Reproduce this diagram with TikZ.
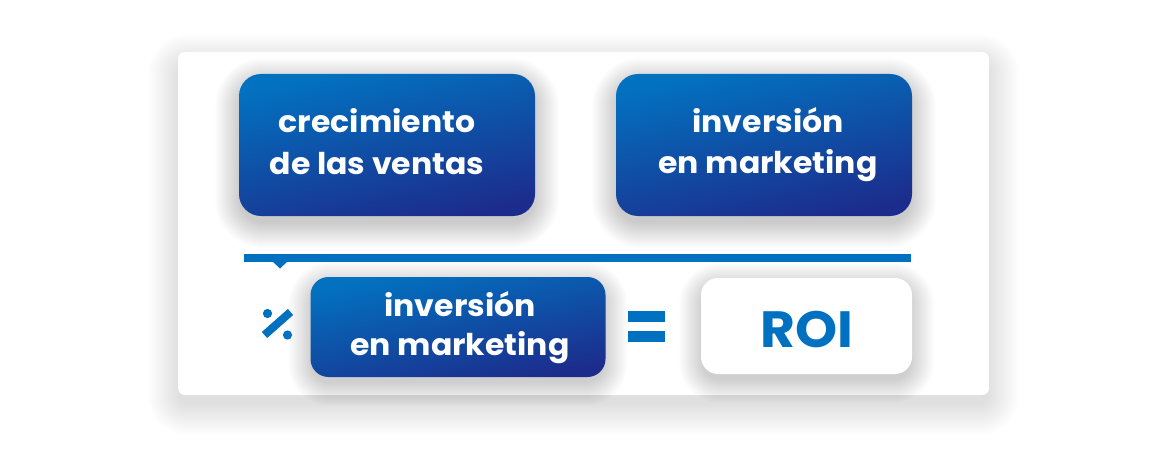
\documentclass[tikz,border=0pt]{standalone}
\usepackage{fontspec}
\setmainfont{Poppins}[FakeStretch=1.05]
\definecolor{roiblue}{RGB}{0,112,192}
\definecolor{gradtop}{RGB}{2,114,192}
\definecolor{gradbot}{RGB}{28,44,140}
\newcommand{\mysoftshadow}[8]{% x1,y1,x2,y2,radius,dy,steps,opacity
  \foreach \i in {1,...,#7}{
    \pgfmathsetmacro{\rr}{#5+\i}
    \fill[black, opacity=#8, rounded corners=\rr pt] ({#1-\i},{#2-\i+#6}) rectangle ({#3+\i},{#4+\i+#6});
  }}
\tikzset{
  card/.style={fill=white, rounded corners=7pt},
  bluebox/.style={rectangle, rounded corners=22pt, draw=none,
    top color=gradtop, bottom color=gradbot, shading angle=12},
  whitebox/.style={rectangle, rounded corners=17pt, draw=none, fill=white},
  boxtext/.style={anchor=base, text=white, font=\fontsize{30}{34}\selectfont\bfseries, inner sep=0pt},
  roitext/.style={anchor=base, text=roiblue, font=\fontsize{51}{60}\selectfont\bfseries, inner sep=0pt},
  bluefill/.style={fill=roiblue, draw=none},
}
\begin{document}
\begin{tikzpicture}[x=1pt,y=-1pt]
\useasboundingbox (0,0) rectangle (1172,449);
\fill[white] (0,0) rectangle (1172,449);
% card
\mysoftshadow{180}{56}{987}{393}{7}{10}{32}{0.0055}
\path[card] (178,52) rectangle (989,395);
% shadows of boxes
\mysoftshadow{241}{76}{533}{214}{22}{8}{26}{0.007}
\mysoftshadow{618}{76}{910}{214}{22}{8}{26}{0.007}
\mysoftshadow{312.5}{279}{603.5}{375}{18}{7}{24}{0.007}
\mysoftshadow{703}{280}{910}{372}{17}{7}{24}{0.006}
% top boxes
\node[bluebox, minimum width=296pt, minimum height=142pt] (b1) at (387,145) {};
\node[bluebox, minimum width=296pt, minimum height=142pt] (b2) at (764,145) {};
\node[boxtext] (t1a) at (377,133) {crecimiento};
\node[boxtext] (t1b) at (377,175) {de las ventas};
\node[boxtext] (t2a) at (768,133) {inversión};
\node[boxtext] (t2b) at (768,174) {en marketing};
% fraction line with pointer
\path[bluefill] (244,254) rectangle (911,262);
\path[bluefill] (272,261) -- (288,261) -- (280,268.5) -- cycle;
% percent sign
\draw[roiblue, line width=8pt] (264.5,335) -- (290.5,312);
\fill[roiblue] (267.5,313.5) circle (4.6);
\fill[roiblue] (287.5,335) circle (4.6);
% bottom box
\node[bluebox, rounded corners=18pt, minimum width=295pt, minimum height=100pt] (b3) at (458,327) {};
\node[boxtext] (t3a) at (460,316) {inversión};
\node[boxtext] (t3b) at (460,355) {en marketing};
% equals sign
\path[bluefill] (628,311) rectangle (665,322);
\path[bluefill] (628,330.5) rectangle (665,342);
% ROI box
\node[whitebox, minimum width=211pt, minimum height=96pt] (roi) at (806.5,326) {};
\node[roitext] (roit) at (806.5,347) {ROI};
\end{tikzpicture}
\end{document}
